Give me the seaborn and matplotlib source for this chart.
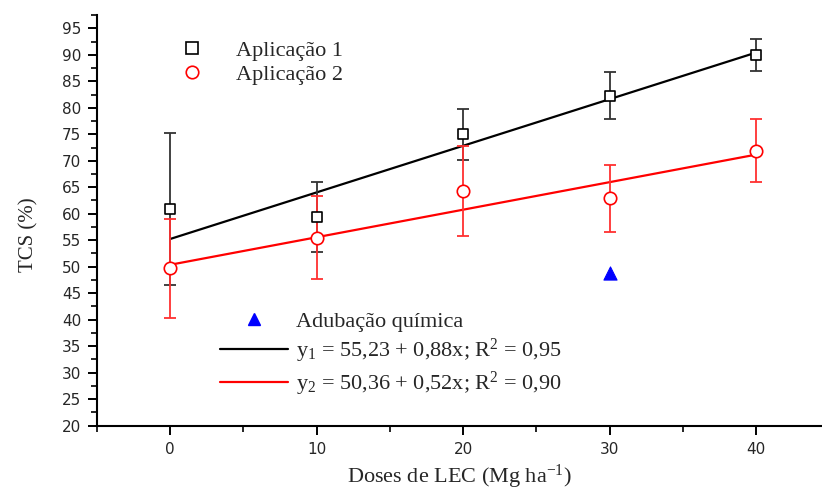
import numpy as np
import pandas as pd
import matplotlib
matplotlib.use("Agg")
import matplotlib.pyplot as plt
from matplotlib.lines import Line2D
from matplotlib.ticker import MultipleLocator
import seaborn as sns

# values
doses = [0, 10, 20, 30, 40]
aplic1 = [60.9, 59.3, 75.0, 82.3, 90.0]
aplic1_err = [14.4, 6.6, 4.8, 4.5, 3.0]
aplic2 = [49.7, 55.5, 64.2, 62.9, 71.9]
aplic2_err = [9.3, 7.9, 8.5, 6.3, 6.0]
quimica_dose = [30]
quimica_tcs = [48.8]
# regression coefficients (intercept, slope)
intercepts = [55.23, 50.36]
slopes = [0.88, 0.52]
eq_labels = ["y$_1$ = 55,23 + 0,88x; R$^2$ = 0,95",
             "y$_2$ = 50,36 + 0,52x; R$^2$ = 0,90"]

sns.set_style("ticks")
plt.rcParams["font.family"] = ["Liberation Serif", "DejaVu Serif"]
plt.rcParams["mathtext.default"] = "regular"

fig = plt.figure(figsize=(8.22, 4.88), dpi=100)
ax = fig.add_axes([0.118, 0.128, 0.882, 0.841])

# fitted lines
x_fit = np.array([doses[0], doses[-1]])
fit = pd.DataFrame({
    "x": np.concatenate([x_fit, x_fit]),
    "y": np.concatenate([intercepts[0] + slopes[0] * x_fit, intercepts[1] + slopes[1] * x_fit]),
    "serie": ["1"] * 2 + ["2"] * 2,
})
sns.lineplot(data=fit, x="x", y="y", hue="serie", palette=["black", "red"],
             linewidth=1.6, legend=False, ax=ax, zorder=2)

# error bars
ax.errorbar(doses, aplic1, yerr=aplic1_err, fmt="none", ecolor="#333333",
            elinewidth=1.3, capsize=4.5, capthick=1.3, zorder=3)
ax.errorbar(doses, aplic2, yerr=aplic2_err, fmt="none", ecolor="#ff3030",
            elinewidth=1.3, capsize=4.5, capthick=1.3, zorder=3)

# points
pts = pd.DataFrame({"dose": doses + doses,
                    "tcs": aplic1 + aplic2,
                    "grupo": ["Aplicação 1"] * 5 + ["Aplicação 2"] * 5})
sns.scatterplot(data=pts[pts.grupo == "Aplicação 1"], x="dose", y="tcs", marker="s", s=60,
                facecolor="white", edgecolor="black", linewidth=1.2, legend=False, ax=ax, zorder=4)
sns.scatterplot(data=pts[pts.grupo == "Aplicação 2"], x="dose", y="tcs", marker="o", s=80,
                facecolor="white", edgecolor="red", linewidth=1.2, legend=False, ax=ax, zorder=4)
sns.scatterplot(x=quimica_dose, y=quimica_tcs, marker="^", s=90, color="blue",
                edgecolor="blue", legend=False, ax=ax, zorder=4)

ax.set_xlim(-5, 44.5)
ax.set_ylim(20, 97.5)
ax.xaxis.set_major_locator(MultipleLocator(10))
ax.xaxis.set_minor_locator(MultipleLocator(5))
ax.yaxis.set_major_locator(MultipleLocator(5))
ax.yaxis.set_minor_locator(MultipleLocator(2.5))
sns.despine(ax=ax)
for s in ["left", "bottom"]:
    ax.spines[s].set_linewidth(1.5)
    ax.spines[s].set_color("black")
ax.tick_params(which="major", length=6.5, width=1.4, pad=5, labelsize=11, color="black")
ax.tick_params(which="minor", length=4, width=1.2, color="black")
for lab in ax.get_xticklabels() + ax.get_yticklabels():
    lab.set_family(["DejaVu Sans"])

ax.set_xlabel("Doses de LEC (Mg ha$^{-1}$)", fontsize=16)
ax.set_ylabel("TCS (%)", fontsize=15)
ax.xaxis.set_label_coords(0.5, -0.09)
ax.yaxis.set_label_coords(-0.081, 0.464)

h1 = [Line2D([], [], marker="s", ls="none", mfc="white", mec="black", ms=8, mew=1.2),
      Line2D([], [], marker="o", ls="none", mfc="white", mec="red", ms=9, mew=1.2)]
leg1 = ax.legend(h1, ["Aplicação 1", "Aplicação 2"], loc="upper left",
                 bbox_to_anchor=(170 / 822, 1 - 40 / 488), bbox_transform=fig.transFigure,
                 frameon=False, fontsize=16, handlelength=2, handletextpad=0.95,
                 borderpad=0, borderaxespad=0, labelspacing=0.18)
ax.add_artist(leg1)

h2 = [Line2D([], [], marker="^", ls="none", color="blue", ms=9),
      Line2D([], [], color="black", lw=1.6),
      Line2D([], [], color="red", lw=1.6)]
ax.legend(h2, ["Adubação química"] + eq_labels, loc="upper left",
          bbox_to_anchor=(220 / 822, 1 - 311 / 488), bbox_transform=fig.transFigure,
          frameon=False, fontsize=16, handlelength=3.05, handletextpad=0.36,
          borderpad=0, borderaxespad=0, labelspacing=0.23)

fig.savefig("out.png", dpi=100)
